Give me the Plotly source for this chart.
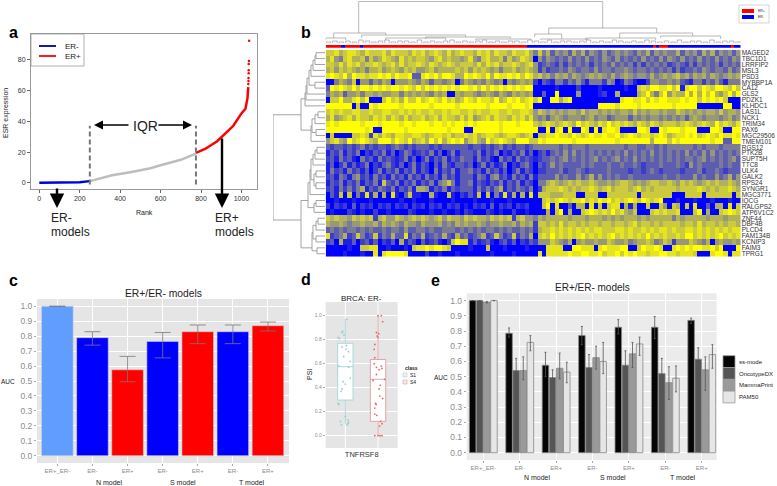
import plotly.graph_objects as go

W, H = 777, 486
FONT = "Liberation Sans"

# ---------- panel a ----------
er_neg_rank = [0, 100, 170, 200, 250]
er_neg_val = [0.1, 0.1, 0.2, 0.5, 1.2]
iqr_rank = [250, 300, 360, 450, 550, 600, 700, 775]
iqr_val = [1.2, 3, 5, 7, 9.5, 11.5, 15, 19]
er_pos_rank = [775, 820, 880, 920, 960, 1000, 1020, 1030, 1034]
er_pos_val = [19.5, 22, 27, 32, 37, 45, 48, 55, 62]
tail_rank = [1034, 1035, 1035, 1036, 1036, 1036, 1037, 1038]
tail_val = [64, 66, 68, 71, 73, 77, 79, 92]
iqr_bounds = [250, 775]

# ---------- panel b ----------
genes = ["MAGED2", "TBC1D1", "LRRFIP2", "MSL3", "PSD3", "MYBBP1A", "CA12", "GLS2", "PDZK1", "KLHDC1",
         "LAS1L", "NCK1", "TRIM34", "PAX6", "MGC29506", "TMEM101", "RGS12", "PTK2B", "SUPT5H", "TTC8",
         "ULK4", "GALK2", "RPS24", "SYNGR1", "MGC3771", "IQCG", "RALGPS2", "ATP6V1C2", "ZNF44", "DBF4B",
         "PLCD4", "FAM134B", "KCNIP3", "FAIM3", "TPRG1"]
heat_left = [
    "778678876877786877768786787686787768786877687786",
    "685478667475687658676776578676656854786674756876",
    "776868786778767868677876876787677768687867787678",
    "675767656466756765767556756666767576765646675676",
    "898796988788989798893389897998669898796988989798",
    "004654705535465055565465355456046545465450545656",
    "398987979989898998987979898989899897979898989899",
    "465635564665655664656565465600656654565465465656",
    "077966897900079786977978987978679879887967989789",
    "999999070098999998999999899999899999989999899989",
    "787877887787788778787877877878877878778877877887",
    "685678687768786876867786786877686856786877687868",
    "898999998999899998998999899898998989999989998999",
    "999999999890099999899999999989990099999989999999",
    "070000778728687688778876788786778786788767887678",
    "578659789876999798796786979689895786597898769997",
    "323323234232332343232333232333333233232342323323",
    "132413240213241302431232413024133324132402132413",
    "231423104231423212413024132413243314231042314232",
    "130241312402134213024132031421332302413124021342",
    "142314231302413241324132041324133423142313024132",
    "231431452314231423142314231423133314314523142314",
    "132413241324173241324132414574133413213241324132",
    "231424246132432413241665132413233314242461324324",
    "031707041816060810371100610071021317070418160608",
    "001000100010000001001000100001000010001000100000",
    "202120302120212021202120212021201021203021202120",
    "010002101002001000021000100100102100021010020010",
    "767665767672675576567676567576657676657676726755",
    "655654556556465654655465556454656556545565564656",
    "343434434343343443533443433444343434344343433434",
    "823462374237243633824362343632634234623742372436",
    "230611302313021306132031231027988131231023130213",
    "000001007788001000107889899870000100070001000010",
    "000010001008089999800002001000100000001000010000"]
heat_right = [
    "474635453646354353454543546354544635453646354535",
    "053543435343534354353434353435354353435343534354",
    "523432424343424343534342424343423432424343424343",
    "524233435434435344344543443434342423343543443534",
    "675646564654565654645654554645656756465646545656",
    "203214424353144425401431002554454532144243531444",
    "000001000020000100000100787998897918997987998797",
    "003009000050000120060000679647957669696979657969",
    "790099689000000000008998897989988898997989897000",
    "000000000000000999989999899999998999990000009900",
    "576565656657566565656657565665655765656566575665",
    "545356545554564553455535454554545453565455545645",
    "767876787697876879787876876876777678767876978768",
    "900908909009809089980000998009899989990009980099",
    "077889887987898898897898788789867889897898798898",
    "798999999899999999989999999699979899999998993399",
    "444444343444344444444344334434344444434344434444",
    "023134353534343434343534343534343435343535343434",
    "123343453434345343453435343434343434434534343453",
    "032353433334343334334334323334333432534333343433",
    "022333423343233334333323323432333323334233432333",
    "133335343353463534343343333333433433353433534635",
    "044676567676676556567765656776676576765676766765",
    "026777876767787678677767867677777677778767677876",
    "077766677700777007777777077777770007777077777707",
    "007878987889787989787898798789000100010001000100",
    "007908003066080707880616007007507607080030660807",
    "000607906007898787978657000787877800079060078987",
    "465666665666566656565666565666664656666656665666",
    "277676867767677677677678677676777767768677676776",
    "267787878787878877788787787878878778878787878788",
    "078797878789787878978787879787877879978787897878",
    "255576546056556557655645667645762555765460565565",
    "000888800998880898889900798898008989899889790009",
    "080888889889988978897989887889988788870008998088"]
annot_row = ("rrrrrbrrrrrbrrrrrrrrrrrrrrrrrrrrrrrrrrrrrrrrrrrrrrrrrrrrrrrrrrrr"
             "bbbbbbbbbbbbbbbbbbbbbbbbbbbbbbbbbbbbbbbbrbrrrbbbbbbbbbbbbbbbbbbbbrbb")
top_leaf_h = [1, 2, 1, 2, 1, 3, 2, 1, 2, 3, 1, 2, 2, 1, 3, 1, 2, 1, 2, 3, 1, 2, 1, 2, 3, 1, 2, 1, 2, 2, 1, 3,
              2, 1, 3, 1, 2, 2, 1, 2, 3, 1, 2, 1, 3, 2, 1, 2, 1, 3, 2, 1, 2, 1, 3, 1, 2, 2, 1, 3, 1, 2, 2, 1]
# x1, x2, top height, child-1 height, child-2 height (leaf scale 0-415, heights 0-41)
top_tree = [(33, 277, 41.5, 10, 15), (8, 60, 10, 5, 8), (36, 140, 8, 5, 6), (100, 185, 6, 4, 5),
            (0, 20, 5, 3, 3), (223, 331, 15, 9, 10), (209, 236, 9, 6, 4), (294, 367, 10, 5, 7),
            (335, 395, 7, 5, 4), (260, 330, 5, 3, 3), (215, 262, 4, 3, 3), (60, 120, 5, 3, 3),
            (150, 205, 4, 3, 3)]
# y1, y2 (row index), top height, child-1 height, child-2 height
left_tree = [(10.5, 28.3, 52, 24, 24), (7.8, 13.1, 24, 20, 14), (0, 1, 9, 0, 0), (0.5, 2, 10, 9, 0),
             (1.25, 3, 12, 10, 0), (2.1, 4, 14, 12, 0), (5, 6, 10, 0, 0), (3, 5.5, 16, 14, 10),
             (4.3, 7, 18, 16, 0), (5.6, 8, 19, 18, 0), (6.8, 9, 20, 19, 0), (10, 11, 7, 0, 0),
             (10.5, 12, 10, 7, 0), (13, 14, 9, 0, 0), (11.2, 13.5, 13, 10, 9), (12.4, 15, 14, 13, 0),
             (25, 33, 24, 17, 13), (16, 17, 8, 0, 0), (16.5, 18, 10, 8, 0), (17.2, 19, 12, 10, 0),
             (20, 21, 9, 0, 0), (22, 23, 9, 0, 0), (20.5, 22.5, 11, 9, 9), (18, 21.5, 14, 12, 11),
             (19.8, 24, 15, 14, 0), (25, 26, 9, 0, 0), (25.5, 27, 11, 9, 0), (22, 26.2, 17, 15, 11),
             (28, 29, 7, 0, 0), (28.5, 30, 9, 7, 0), (31, 32, 9, 0, 0), (29.2, 31.5, 12, 9, 9),
             (33, 34, 8, 0, 0), (30.4, 33.5, 13, 12, 8)]

# ---------- panel c ----------
auc_cats = ["ER+_ER-", "ER-", "ER+", "ER-", "ER+", "ER-", "ER+"]
auc_vals = [1.0, 0.79, 0.575, 0.765, 0.83, 0.83, 0.87]
auc_hi = [1.0, 0.83, 0.665, 0.825, 0.875, 0.875, 0.895]
auc_lo = [1.0, 0.74, 0.495, 0.655, 0.75, 0.75, 0.835]
auc_colors = ["#619cff", "#0000ff", "#ff0000", "#0000ff", "#ff0000", "#0000ff", "#ff0000"]
model_names = ["N model", "S model", "T model"]

# ---------- panel d ----------
s1_stats = dict(q1=0.297, med=0.575, q3=0.77, lo=0.10, hi=0.975)
s4_stats = dict(q1=0.12, med=0.47, q3=0.635, lo=0.0, hi=1.0)
s1_y = [0.97, 0.87, 0.86, 0.84, 0.82, 0.81, 0.75, 0.74, 0.72, 0.70, 0.66, 0.62, 0.58, 0.57,
        0.48, 0.45, 0.43, 0.39, 0.37, 0.27, 0.26, 0.16, 0.13, 0.12, 0.11, 0.10, 0.09, 0.09]
s1_dx = [0.05, -0.08, -0.1, -0.04, -0.22, -0.18, 0.03, -0.1, 0.02, 0.1, -0.05, 0.15, -0.2, 0.1,
         0.15, -0.07, 0.0, -0.1, -0.13, -0.22, -0.2, 0.0, 0.08, -0.15, 0.1, 0.07, -0.12, 0.05]
s4_y = [1, 1, 0.95, 0.86, 0.85, 0.83, 0.82, 0.76, 0.72, 0.65, 0.6, 0.58, 0.57, 0.56, 0.55, 0.51, 0.47,
        0.46, 0.42, 0.39, 0.33, 0.31, 0.27, 0.26, 0.23, 0.18, 0.17, 0.12, 0.1, 0.08, 0, 0, 0, 0]
s4_dx = [0.0, 0.1, 0.14, -0.05, 0.02, -0.03, 0.0, -0.1, -0.12, -0.1, -0.12, 0.1, -0.05, 0.12, 0.03, -0.05, 0.2,
         -0.15, 0.07, 0.03, 0.05, 0.14, -0.08, -0.06, -0.1, -0.1, -0.04, 0.08, 0.12, 0.05, -0.1, 0.0, 0.06, 0.12]

# ---------- panel e ----------
e_cats = ["ER+_ER-", "ER-", "ER+", "ER-", "ER+", "ER-", "ER+"]
ss_vals = [1.0, 0.785, 0.575, 0.77, 0.825, 0.825, 0.87]
ss_hi = [1.0, 0.82, 0.66, 0.83, 0.875, 0.895, 0.885]
ss_lo = [1.0, 0.76, 0.50, 0.71, 0.78, 0.75, 0.85]
onc_vals = [1.0, 0.54, 0.495, 0.56, 0.575, 0.52, 0.615]
onc_hi = [1.0, 0.62, 0.545, 0.645, 0.67, 0.62, 0.69]
onc_lo = [1.0, 0.48, 0.42, 0.40, 0.515, 0.43, 0.525]
mam_vals = [0.99, 0.54, 0.555, 0.625, 0.65, 0.46, 0.545]
mam_hi = [0.995, 0.63, 0.655, 0.70, 0.725, 0.565, 0.63]
mam_lo = [0.985, 0.48, 0.485, 0.55, 0.56, 0.35, 0.41]
pam_vals = [1.0, 0.725, 0.53, 0.60, 0.715, 0.49, 0.645]
pam_hi = [1.0, 0.77, 0.595, 0.725, 0.76, 0.57, 0.71]
pam_lo = [1.0, 0.67, 0.46, 0.52, 0.64, 0.40, 0.555]
e_names = ["ss-mode", "OncotypeDX", "MammaPrint", "PAM50"]
e_colors = ["#050505", "#555555", "#9a9a9a", "#e6e6e6"]
e_vals = [ss_vals, onc_vals, mam_vals, pam_vals]
e_his = [ss_hi, onc_hi, mam_hi, pam_hi]
e_los = [ss_lo, onc_lo, mam_lo, pam_lo]


def X(p):
    return p / W


def Y(p):
    return 1 - p / H


def dx(a, b):
    return [X(a), X(b)]


def dy(top, bottom):
    return [Y(bottom), Y(top)]


fig = go.Figure()
layout = dict(
    width=W, height=H, autosize=False, margin=dict(l=0, r=0, t=0, b=0),
    paper_bgcolor="white", plot_bgcolor="white", showlegend=False, barmode="group",
    font=dict(family=FONT, color="#222"),
)
annots, shapes = [], []


def text(px, py, s, size=8, color="#222", bold=False, anchor="center", angle=0, xanchor=None):
    annots.append(dict(x=X(px), y=Y(py), xref="paper", yref="paper", text=f"<b>{s}</b>" if bold else s,
                       showarrow=False, font=dict(size=size, color=color, family=FONT),
                       xanchor=xanchor or anchor, yanchor="middle", textangle=angle))


def arrow(x0, y0, x1, y1, w=1.5, size=1.0):
    annots.append(dict(x=X(x1), y=Y(y1), xref="paper", yref="paper", ax=x0 - x1, ay=y0 - y1,
                       axref="pixel", ayref="pixel", text="", showarrow=True, arrowhead=2,
                       arrowwidth=w, arrowsize=size, arrowcolor="black"))


# panel a ------------------------------------------------------------------
layout["xaxis"] = dict(domain=dx(31, 257), range=[-41, 1077], tickvals=[0, 200, 400, 600, 800, 1000],
                       showgrid=False, zeroline=False, ticks="outside", ticklen=3, tickcolor="#666",
                       tickfont=dict(size=7, color="#333"), showline=True, linecolor="#999", mirror=True, anchor="y")
layout["yaxis"] = dict(domain=dy(34, 189), range=[-3.9, 96.4], tickvals=[0, 20, 40, 60, 80],
                       showgrid=False, zeroline=False, ticks="outside", ticklen=3, tickcolor="#666",
                       tickfont=dict(size=7, color="#333"), showline=True, linecolor="#999", mirror=True, anchor="x")
fig.add_trace(go.Scatter(x=iqr_rank, y=iqr_val, mode="lines", line=dict(color="#bdbdbd", width=2.5), xaxis="x", yaxis="y"))
fig.add_trace(go.Scatter(x=er_neg_rank, y=er_neg_val, mode="lines", line=dict(color="#0000e0", width=2.5), xaxis="x", yaxis="y"))
fig.add_trace(go.Scatter(x=er_pos_rank, y=er_pos_val, mode="lines", line=dict(color="#ff0000", width=2.5), xaxis="x", yaxis="y"))
fig.add_trace(go.Scatter(x=tail_rank, y=tail_val, mode="markers", marker=dict(color="#ff0000", size=2.5), xaxis="x", yaxis="y"))
for b in iqr_bounds:
    fig.add_trace(go.Scatter(x=[b, b], y=[-1, 37], mode="lines", line=dict(color="#777", width=2, dash="5px,3px"),
                             xaxis="x", yaxis="y"))
shapes.append(dict(type="rect", xref="paper", yref="paper", x0=X(31), x1=X(84), y0=Y(66), y1=Y(34),
                   line=dict(color="#999", width=0.8), fillcolor="white"))
shapes.append(dict(type="line", xref="paper", yref="paper", x0=X(39), x1=X(56), y0=Y(46), y1=Y(46),
                   line=dict(color="#0000a0", width=1.8)))
shapes.append(dict(type="line", xref="paper", yref="paper", x0=X(39), x1=X(56), y0=Y(56), y1=Y(56),
                   line=dict(color="#ff0000", width=1.8)))
text(63, 46, "ER-", 8, anchor="left")
text(63, 56, "ER+", 8, anchor="left")
text(144, 212, "Rank", 7)
text(6, 113, "ESR expression", 7, angle=-90)
text(145, 126, "IQR", 14)
arrow(130, 125, 94, 125, 1.5, 1.2)
arrow(157, 125, 192, 125, 1.5, 1.2)
arrow(57, 187, 57, 208, 2.4, 1.2)
arrow(222, 137, 222, 208, 2.4, 1.2)
text(49, 218, "ER-", 12, anchor="left")
text(49, 232, "models", 12, anchor="left")
text(213, 218, "ER+", 12, anchor="left")
text(213, 232, "models", 12, anchor="left")

# panel b ------------------------------------------------------------------
matrix = [[int(c) for c in l.ljust(48, l[-1])[:48] + r.ljust(48, r[-1])[:48]] for l, r in zip(heat_left, heat_right)]
layout["xaxis2"] = dict(domain=dx(325.7, 740.7), range=[-0.5, 95.5], showticklabels=False, ticks="", showgrid=False,
                        zeroline=False, anchor="y2")
layout["yaxis2"] = dict(domain=dy(49.7, 256.7), range=[34.5, -0.5], side="right", tickvals=list(range(35)), ticktext=genes,
                        tickfont=dict(size=6.5, color="#333"), ticks="", ticklen=0, showgrid=False, zeroline=False, anchor="x2")
fig.add_trace(go.Heatmap(z=matrix, xaxis="x2", yaxis="y2", zmin=0, zmax=9, showscale=False, zsmooth=False,
                         colorscale=[[0, "#0000ff"], [0.5, "#8a8a8a"], [1, "#ffff00"]]))
layout["xaxis3"] = dict(domain=dx(325.7, 740.7), range=[-0.5, len(annot_row) - 0.5], visible=False, anchor="y3")
layout["yaxis3"] = dict(domain=dy(45, 47.7), range=[-0.5, 0.5], visible=False, anchor="x3")
fig.add_trace(go.Heatmap(z=[[0 if c == "r" else 1 for c in annot_row]], xaxis="x3", yaxis="y3", zmin=0, zmax=1,
                         showscale=False, colorscale=[[0, "#ff0000"], [1, "#0000ff"]]))
layout["xaxis4"] = dict(domain=dx(325.7, 740.7), range=[0, 415], visible=False, anchor="y4")
layout["yaxis4"] = dict(domain=dy(1, 43), range=[0, 42], visible=False, anchor="x4")
tx, ty = [], []
for a, b, h, h1, h2 in top_tree:
    tx += [a, a, b, b, None]
    ty += [h1, h, h, h2, None]
for i, h in enumerate(top_leaf_h):
    a = i * 6.5 + 0.5
    tx += [a, a, a + 4.5, a + 4.5, None]
    ty += [0, h, h, 0, None]
fig.add_trace(go.Scatter(x=tx, y=ty, mode="lines", line=dict(color="#999", width=0.7), xaxis="x4", yaxis="y4"))
layout["xaxis5"] = dict(domain=dx(273, 325), range=[52, 0], visible=False, anchor="y5")
layout["yaxis5"] = dict(domain=dy(49.7, 256.7), range=[34.5, -0.5], visible=False, anchor="x5")
lx, ly = [], []
for a, b, h, h1, h2 in left_tree:
    lx += [h1, h, h, h2, None]
    ly += [a, a, b, b, None]
fig.add_trace(go.Scatter(x=lx, y=ly, mode="lines", line=dict(color="#999", width=0.9), xaxis="x5", yaxis="y5"))
shapes.append(dict(type="rect", xref="paper", yref="paper", x0=X(739), x1=X(769), y0=Y(23), y1=Y(5),
                   line=dict(color="#bbb", width=0.6), fillcolor="white"))
shapes.append(dict(type="rect", xref="paper", yref="paper", x0=X(742), x1=X(754), y0=Y(13), y1=Y(9),
                   fillcolor="#ff0000", line=dict(width=0)))
shapes.append(dict(type="rect", xref="paper", yref="paper", x0=X(742), x1=X(754), y0=Y(19), y1=Y(15),
                   fillcolor="#0000ff", line=dict(width=0)))
text(756, 11, "ER+", 3.5, anchor="left")
text(756, 17, "ER-", 3.5, anchor="left")


def gg_axes(n, xdom, ydom, xr, yr, tv, tt, bg="#e5e5e5", tickcolor="#8c8c8c", ysize=8.5, xsize=6):
    layout[f"xaxis{n}"] = dict(domain=xdom, range=xr, tickvals=tv, ticktext=tt, showgrid=True, gridcolor="white", gridwidth=1,
                               zeroline=False, ticks="outside", ticklen=2, tickcolor="#aaa",
                               tickfont=dict(size=xsize, color=tickcolor), anchor=f"y{n}")
    layout[f"yaxis{n}"] = dict(domain=ydom, range=yr, showgrid=True, gridcolor="white", gridwidth=1, zeroline=False,
                               ticks="outside", ticklen=2, tickcolor="#aaa", tickfont=dict(size=ysize, color=tickcolor),
                               tickvals=[i / 10 for i in range(11)],
                               ticktext=[f"{i / 10:.1f}" for i in range(11)], anchor=f"x{n}")
    shapes.append(dict(type="rect", xref="paper", yref="paper", x0=xdom[0], x1=xdom[1], y0=ydom[0], y1=ydom[1],
                       fillcolor=bg, line=dict(width=0), layer="below"))


# panel c ------------------------------------------------------------------
gg_axes(6, dx(37, 289), dy(299, 463), [-0.58, 6.6], [-0.049, 1.049], list(range(7)), auc_cats)
fig.add_trace(go.Bar(x=list(range(7)), y=auc_vals, width=0.9, xaxis="x6", yaxis="y6", offsetgroup="c",
                     marker=dict(color=auc_colors, line=dict(color="#d0d0d0", width=0.6)),
                     error_y=dict(type="data", symmetric=False, color="#777", thickness=0.8, width=8,
                                  array=[h - v for h, v in zip(auc_hi, auc_vals)],
                                  arrayminus=[v - l for l, v in zip(auc_lo, auc_vals)])))
text(163, 293, "ER+/ER- models", 10.3)
text(8, 381, "AUC", 6.5)
for px, s in zip([109, 183, 252], model_names):
    text(px, 482, s, 7)

# panel d ------------------------------------------------------------------
gg_axes(7, dx(325.7, 397.7), dy(302, 448), [-0.6, 1.6], [-0.1025, 1.114], [0, 1], ["", ""], ysize=5)
layout["xaxis7"]["tickvals"] = [0.5]
layout["xaxis7"]["ticktext"] = ["TNFRSF8"]
layout["xaxis7"]["tickfont"] = dict(size=7.5, color="#333")
layout["xaxis7"]["ticks"] = ""
layout["xaxis7"]["showgrid"] = False
layout["yaxis7"]["tickvals"] = [0, 0.2, 0.4, 0.6, 0.8, 1.0]
layout["yaxis7"]["ticktext"] = ["0.0", "0.2", "0.4", "0.6", "0.8", "1.0"]
for pos in [0, 1]:
    shapes.append(dict(type="line", xref="x7", yref="paper", x0=pos, x1=pos, y0=Y(448), y1=Y(302),
                       line=dict(color="white", width=1), layer="below"))
for pos, st, col in [(0, s1_stats, "#9fd6d8"), (1, s4_stats, "#e39a9a")]:
    fig.add_trace(go.Box(x=[pos], q1=[st["q1"]], median=[st["med"]], q3=[st["q3"]], lowerfence=[st["lo"]], upperfence=[st["hi"]],
                         width=0.47, xaxis="x7", yaxis="y7", line=dict(color=col, width=0.9), fillcolor="white",
                         boxpoints=False, whiskerwidth=0))
fig.add_trace(go.Scatter(x=s1_dx, y=s1_y, mode="markers", marker=dict(color="#8fd0c8", size=1.8), xaxis="x7", yaxis="y7"))
fig.add_trace(go.Scatter(x=[1 + d for d in s4_dx], y=s4_y, mode="markers", marker=dict(color="#e06a6a", size=1.8), xaxis="x7", yaxis="y7"))
text(361, 298, "BRCA: ER-", 8)
text(309, 375, "PSI", 7, angle=-90)
text(403, 368, "class", 5, bold=True, anchor="left")
for py, col, s in [(375, "#9fd6d8", "S1"), (382, "#e39a9a", "S4")]:
    shapes.append(dict(type="rect", xref="paper", yref="paper", x0=X(403), x1=X(407), y0=Y(py + 2), y1=Y(py - 2),
                       fillcolor="#f0f0f0", line=dict(color=col, width=0.6)))
    text(408, py, s, 5, anchor="left")

# panel e ------------------------------------------------------------------
gg_axes(8, dx(466.7, 716.7), dy(293.3, 460), [-0.456, 6.41], [-0.048, 1.048], list(range(7)), e_cats, bg="#ebebeb")
for name, col, v, hi, lo in zip(e_names, e_colors, e_vals, e_his, e_los):
    fig.add_trace(go.Bar(x=list(range(7)), y=v, name=name, xaxis="x8", yaxis="y8",
                         marker=dict(color=col, line=dict(color="#888", width=0.8)),
                         error_y=dict(type="data", symmetric=False, color="#555", thickness=0.8, width=1,
                                      array=[a - b for a, b in zip(hi, v)], arrayminus=[b - a for a, b in zip(lo, v)])))
layout["bargap"] = 0.22
layout["bargroupgap"] = 0.08
text(592, 287, "ER+/ER- models", 10)
text(441, 377, "AUC", 6.5)
for px, s in zip([537, 613, 683], model_names):
    text(px, 477, s, 7)
for i, (name, col) in enumerate(zip(e_names, e_colors)):
    top = 355.7 + i * 11.8
    shapes.append(dict(type="rect", xref="paper", yref="paper", x0=X(723), x1=X(735), y0=Y(top + 11.8), y1=Y(top),
                       fillcolor=col, line=dict(color="#999", width=0.8)))
    text(736.5, top + 6, name, 6, anchor="left")

# panel letters
for px, py, s in [(13, 33, "a"), (306, 32, "b"), (13, 280, "c"), (306, 279, "d"), (435, 280, "e")]:
    text(px, py, s, 16, color="black", bold=True)

layout["annotations"] = annots
layout["shapes"] = shapes
fig.update_layout(**layout)
fig.write_html("out.html", config={"displayModeBar": False}, post_script="document.body.style.margin='0';")
